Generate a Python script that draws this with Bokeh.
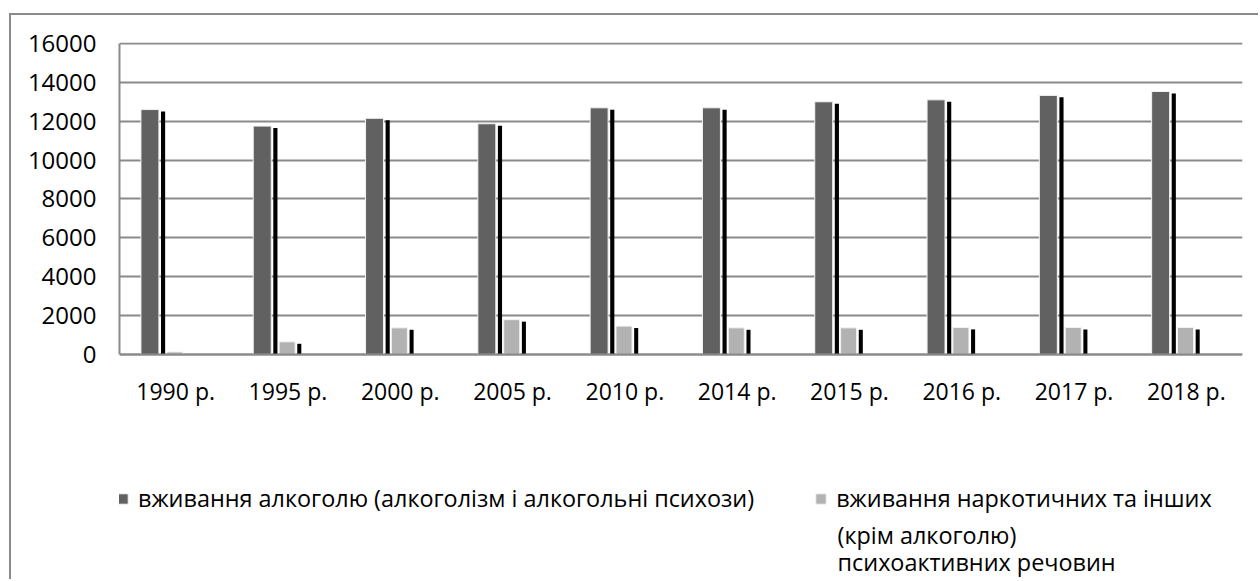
from bokeh.plotting import figure
from bokeh.models import (FactorRange, Range1d, FixedTicker, Legend, LegendItem,
                          ColumnDataSource, Label, CategoricalAxis)
from bokeh.transform import dodge
from bokeh.embed import file_html
from bokeh.resources import INLINE

# ---- data ----
years = ["1990 р.", "1995 р.", "2000 р.", "2005 р.", "2010 р.",
         "2014 р.", "2015 р.", "2016 р.", "2017 р.", "2018 р."]
alcohol = [12600, 11750, 12150, 11870, 12690, 12690, 13000, 13100, 13330, 13530]
drugs = [130, 650, 1370, 1790, 1460, 1370, 1370, 1390, 1390, 1390]
y_ticks = [0, 2000, 4000, 6000, 8000, 10000, 12000, 14000, 16000]
label_alcohol = "вживання алкоголю (алкоголізм і алкогольні психози)"
label_drugs_lines = ["вживання наркотичних та інших", "(крім алкоголю)",
                     "психоактивних речовин"]

# ---- style / layout ----
FONT = "Open Sans"
FSIZE = "23px"
LEG_FSIZE = "23.4px"
GRID = "#8a8a8a"
DARK = "#616161"
LIGHT = "#b2b2b2"
SHADOW_DROP = 100              # shadow top sits slightly below the bar top
Y_LOW, Y_HIGH = -11680, 16051  # room below the axis for labels and legend
LEGEND_CONT_X = 6.394          # continuation lines of the 2nd legend entry
LEGEND_CONT_Y = [-9312, -10700]

src = ColumnDataSource(dict(
    years=years,
    alcohol=alcohol,
    drugs=drugs,
    alcohol_sh=[max(v - SHADOW_DROP, 0) for v in alcohol],
    drugs_sh=[max(v - SHADOW_DROP, 0) for v in drugs],
))

W, H = 1249, 566
p = figure(width=W, height=H, x_range=FactorRange(factors=years, range_padding=0),
           y_range=Range1d(Y_LOW, Y_HIGH), output_backend="svg",
           toolbar_location=None, x_axis_location=None,
           min_border_left=108, min_border_right=18, min_border_top=27,
           min_border_bottom=0)
p.outline_line_color = None
p.background_fill_color = "white"
p.border_fill_color = "white"
p.styles = {"margin-left": "9px", "margin-top": "13px",
            "border-left": f"2px solid {GRID}", "border-top": f"2px solid {GRID}"}

# shadows
p.vbar(x=dodge("years", -0.112, range=p.x_range), top="alcohol_sh", width=0.037,
       source=src, fill_color="black", line_color=None)
p.vbar(x=dodge("years", 0.101, range=p.x_range), top="drugs_sh", width=0.036,
       source=src, fill_color="black", line_color=None)
# bars
r1 = p.vbar(x=dodge("years", -0.229, range=p.x_range), top="alcohol", width=0.16,
            source=src, fill_color=DARK, line_color="#f2f2f2", line_width=1)
r2 = p.vbar(x=dodge("years", -0.0075, range=p.x_range), top="drugs", width=0.1425,
            source=src, fill_color=LIGHT, line_color="#f2f2f2", line_width=1)

# axes
xaxis = CategoricalAxis(fixed_location=0)
p.add_layout(xaxis, "below")
p.yaxis.ticker = FixedTicker(ticks=y_ticks)
p.yaxis.bounds = (0, 16000)
for ax in (xaxis, p.yaxis[0]):
    ax.major_tick_line_color = None
    ax.minor_tick_line_color = None
    ax.axis_line_color = GRID
    ax.axis_line_width = 2
    ax.major_label_text_font = FONT
    ax.major_label_text_font_size = FSIZE
    ax.major_label_text_color = "black"
p.yaxis.major_label_text_font_size = "24px"
p.yaxis.major_label_standoff = 17
xaxis.major_label_standoff = 15
p.xgrid.grid_line_color = None
p.ygrid.ticker = FixedTicker(ticks=y_ticks)
p.ygrid.grid_line_color = GRID
p.ygrid.grid_line_width = 2

# legend
legend = Legend(items=[LegendItem(label=label_alcohol, renderers=[r1]),
                       LegendItem(label=label_drugs_lines[0], renderers=[r2])],
                orientation="horizontal", location=(-3, 67),
                glyph_width=13, glyph_height=13, label_standoff=9, spacing=60,
                padding=0, margin=0, border_line_color=None,
                background_fill_alpha=0,
                label_text_font=FONT, label_text_font_size=LEG_FSIZE,
                label_text_color="black")
p.add_layout(legend, "center")
for text, yy in zip(label_drugs_lines[1:], LEGEND_CONT_Y):
    p.add_layout(Label(x=LEGEND_CONT_X, y=yy, text=text, text_font=FONT,
                       text_font_size=LEG_FSIZE, text_color="black",
                       text_baseline="middle", text_align="left"))

open("out.html", "w").write(file_html(p, INLINE))
